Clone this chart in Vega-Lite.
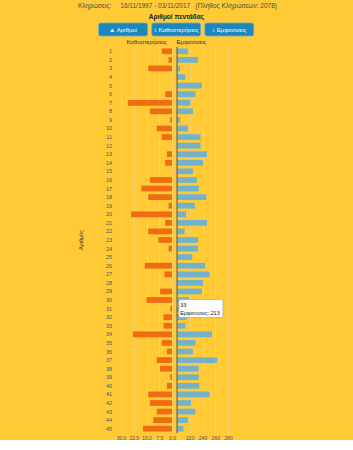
{
  "$schema": "https://vega.github.io/schema/vega-lite/v6.json",
  "background": "#FFCA35",
  "padding": {"left": 78, "top": 3, "right": 60, "bottom": 0},
  "config": {
    "view": {"stroke": null},
    "font": "Liberation Sans"
  },
  "title": {
    "text": "Κληρώσεις:\u00a0\u00a0\u00a0\u00a0 16/11/1997 - 03/11/2017\u00a0\u00a0 (Πλήθος Κληρώσεων: 2078)",
    "fontSize": 6.5,
    "fontWeight": "normal",
    "color": "#4a4a4a",
    "offset": 4.5,
    "anchor": "start"
  },
  "datasets": {
    "buttons": [
      {"label": "▲ Αριθμοί"},
      {"label": "↕ Καθυστερήσεις"},
      {"label": "↕ Εμφανίσεις"}
    ],
    "tip": [
      {"num": 33, "line1": "33", "line2": "Εμφανίσεις: 213"}
    ],
    "nums": [
      {"num": 1, "delays": 6, "appearances": 217},
      {"num": 2, "delays": 2, "appearances": 233},
      {"num": 3, "delays": 14, "appearances": 205},
      {"num": 4, "delays": 0, "appearances": 213},
      {"num": 5, "delays": 0, "appearances": 239},
      {"num": 6, "delays": 4, "appearances": 229},
      {"num": 7, "delays": 26, "appearances": 221},
      {"num": 8, "delays": 13, "appearances": 225},
      {"num": 9, "delays": 1, "appearances": 205},
      {"num": 10, "delays": 9, "appearances": 217},
      {"num": 11, "delays": 6, "appearances": 237},
      {"num": 12, "delays": 0, "appearances": 237},
      {"num": 13, "delays": 3, "appearances": 247},
      {"num": 14, "delays": 4, "appearances": 241},
      {"num": 15, "delays": 0, "appearances": 225},
      {"num": 16, "delays": 13, "appearances": 231},
      {"num": 17, "delays": 18, "appearances": 234},
      {"num": 18, "delays": 14, "appearances": 246},
      {"num": 19, "delays": 2, "appearances": 228},
      {"num": 20, "delays": 24, "appearances": 214},
      {"num": 21, "delays": 4, "appearances": 247},
      {"num": 22, "delays": 14, "appearances": 212},
      {"num": 23, "delays": 8, "appearances": 233},
      {"num": 24, "delays": 2, "appearances": 233},
      {"num": 25, "delays": 0, "appearances": 224},
      {"num": 26, "delays": 16, "appearances": 244},
      {"num": 27, "delays": 4.5, "appearances": 251},
      {"num": 28, "delays": 0, "appearances": 241},
      {"num": 29, "delays": 7, "appearances": 239},
      {"num": 30, "delays": 15, "appearances": 219},
      {"num": 31, "delays": 1, "appearances": 206},
      {"num": 32, "delays": 5, "appearances": 215},
      {"num": 33, "delays": 5, "appearances": 213},
      {"num": 34, "delays": 23, "appearances": 255},
      {"num": 35, "delays": 6, "appearances": 229},
      {"num": 36, "delays": 3, "appearances": 225},
      {"num": 37, "delays": 9, "appearances": 263},
      {"num": 38, "delays": 7, "appearances": 234},
      {"num": 39, "delays": 1, "appearances": 234},
      {"num": 40, "delays": 3, "appearances": 235},
      {"num": 41, "delays": 14, "appearances": 251},
      {"num": 42, "delays": 13, "appearances": 222},
      {"num": 43, "delays": 9, "appearances": 229},
      {"num": 44, "delays": 11, "appearances": 217},
      {"num": 45, "delays": 17, "appearances": 210}
    ]
  },
  "spacing": 1,
  "vconcat": [
    {
      "width": 215,
      "height": 13,
      "title": {"text": "Αριθμοί πεντάδας", "fontSize": 6.5, "fontWeight": "bold", "color": "#222222", "offset": 2, "anchor": "middle", "dx": -9},
      "data": {"name": "buttons"},
      "encoding": {
        "x": {"field": "label", "type": "nominal", "sort": null, "axis": null,
              "scale": {"paddingInner": 0.08, "paddingOuter": 0.565, "align": 0.345}}
      },
      "layer": [
        {"mark": {"type": "rect", "color": "#1d86ba", "cornerRadius": 2, "stroke": "#5fb0d8", "strokeWidth": 0.8}},
        {"mark": {"type": "text", "color": "white", "fontSize": 6}, "encoding": {"text": {"field": "label"}}}
      ]
    },
    {
      "spacing": 0,
      "hconcat": [
        {
          "width": 38,
          "height": 386,
          "data": {"name": "nums"},
          "layer": [
            {
              "mark": {"type": "text", "align": "right", "dx": -4, "fontSize": 5.5, "color": "#555555"},
              "encoding": {
                "y": {"field": "num", "type": "ordinal", "scale": {"paddingInner": 0.33, "paddingOuter": 0.165}, "axis": null},
                "x": {"datum": 1, "type": "quantitative", "scale": {"domain": [0, 1]}, "axis": null},
                "text": {"field": "num", "type": "nominal"}
              }
            },
            {
              "data": {"values": [{"t": "Αριθμός"}]},
              "mark": {"type": "text", "angle": 270, "fontSize": 5.5, "color": "#333333", "align": "center", "baseline": "middle"},
              "encoding": {
                "y": {"datum": 23, "type": "ordinal"},
                "x": {"datum": 0.08, "type": "quantitative"},
                "text": {"field": "t", "type": "nominal"}
              }
            }
          ]
        },
        {
          "width": 51,
          "height": 386,
          "title": {"text": "Καθυστερήσεις", "fontSize": 6, "fontWeight": "normal", "color": "#333333", "offset": 2, "anchor": "middle"},
          "data": {"name": "nums"},
          "mark": {"type": "bar", "color": "#F06B12"},
          "encoding": {
            "y": {"field": "num", "type": "ordinal",
                  "scale": {"paddingInner": 0.33, "paddingOuter": 0.165}, "axis": null},
            "x": {"field": "delays", "type": "quantitative",
                  "scale": {"domain": [0, 30], "reverse": true},
                  "axis": {"values": [0, 7.5, 15, 22.5, 30], "tickCount": 10, "format": ".1f", "title": null, "labelFontSize": 5, "labelColor": "#555555",
                           "labelOverlap": false, "labelFlush": false, "ticks": false, "domain": false, "gridColor": "#f5d46e", "labelPadding": 2}}
          }
        },
        {
          "width": 51,
          "height": 386,
          "title": {"text": "Εμφανίσεις", "fontSize": 6, "fontWeight": "normal", "color": "#333333", "offset": 2, "anchor": "start"},
          "layer": [
            {
              "data": {"name": "nums"},
              "mark": {"type": "bar", "color": "#72B3CB", "clip": true},
              "encoding": {
                "y": {"field": "num", "type": "ordinal",
                      "scale": {"paddingInner": 0.33, "paddingOuter": 0.165}, "axis": null},
                "x": {"field": "appearances", "type": "quantitative",
                      "scale": {"domain": [200, 280], "zero": false},
                      "axis": {"values": [220, 240, 260, 280], "tickCount": 10, "title": null, "labelFontSize": 5, "labelColor": "#555555",
                               "labelOverlap": false, "labelFlush": false, "ticks": false, "domain": false, "gridColor": "#f5d46e", "labelPadding": 2}},
                "x2": {"datum": 200}
              }
            },
            {
              "data": {"name": "tip"},
              "mark": {"type": "rule", "color": "#555555", "strokeWidth": 1},
              "encoding": {"x": {"datum": 200}}
            },
            {
              "data": {"name": "tip"},
              "mark": {"type": "rect", "fill": "white", "stroke": "#999999", "strokeWidth": 0.6, "cornerRadius": 1.5, "height": 18},
              "encoding": {
                "y": {"datum": 31, "type": "ordinal"},
                "x": {"datum": 203},
                "x2": {"datum": 272}
              }
            },
            {
              "data": {"name": "tip"},
              "mark": {"type": "text", "align": "left", "fontSize": 5.5, "color": "#222222", "dy": -4},
              "encoding": {
                "y": {"datum": 31, "type": "ordinal"},
                "x": {"datum": 205},
                "text": {"field": "line1", "type": "nominal"}
              }
            },
            {
              "data": {"name": "tip"},
              "mark": {"type": "text", "align": "left", "fontSize": 5.5, "color": "#222222", "dy": 4},
              "encoding": {
                "y": {"datum": 31, "type": "ordinal"},
                "x": {"datum": 205},
                "text": {"field": "line2", "type": "nominal"}
              }
            }
          ]
        }
      ]
    }
  ]
}
